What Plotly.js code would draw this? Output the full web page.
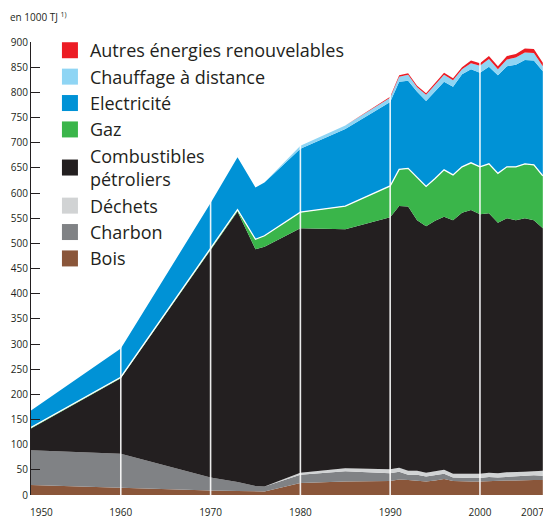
<!DOCTYPE html>
<html>
<head>
<meta charset="utf-8">
<script src="https://cdn.plot.ly/plotly-3.0.1.min.js"></script>
<style>html,body{margin:0;padding:0;background:#fff;}#chart{width:543px;height:518px;}</style>
</head>
<body>
<div id="chart"></div>
<script>
// ---- Data (1000 TJ) ----
const years = [1950, 1960, 1970, 1973, 1975, 1976, 1980, 1985, 1990, 1991, 1992, 1993, 1994, 1995, 1996, 1997, 1998, 1999, 2000, 2001, 2002, 2003, 2004, 2005, 2006, 2007];
const bois        = [20, 14, 9, 8, 7, 7, 24, 27, 28, 31, 30, 29, 27, 29, 32, 28, 27, 27, 27, 28, 28, 29, 29, 30, 30, 30];
const charbon     = [69, 68, 26, 18, 11, 10, 16, 20, 15, 15, 10, 11, 10, 10, 10, 7, 7, 7, 7, 8, 7, 7, 8, 8, 9, 8];
const dechets     = [0, 0, 0, 0, 0, 0, 4, 6, 8, 8, 8, 8, 7, 8, 8, 7, 8, 8, 8, 8, 8, 9, 8, 8, 8, 10];
const petroliers  = [43, 150, 452, 537, 470, 476, 486, 475, 501, 520, 525, 498, 490, 498, 503, 504, 519, 524, 516, 516, 498, 505, 501, 504, 499, 482];
const gaz         = [2, 2, 3, 4, 20, 22, 32, 46, 62, 73, 76, 85, 79, 84, 93, 90, 91, 94, 94, 98, 98, 102, 106, 108, 110, 104];
const electricite = [34, 57, 90, 104, 103, 106, 126, 153, 167, 174, 174, 170, 170, 172, 175, 175, 184, 186, 187, 193, 195, 200, 203, 206, 207, 208];
const chauffage   = [0, 0, 0, 0, 0, 0, 6, 7, 8, 10, 12, 9, 12, 14, 14, 13, 10, 12, 14, 15, 12, 13, 14, 15, 15, 10];
const autres      = [0, 0, 0, 0, 0, 0, 0, 0, 2, 3, 3, 3, 3, 3, 4, 4, 4, 5, 5, 6, 6, 7, 7, 8, 8, 7];

const seriesNames = ["Bois", "Charbon", "Déchets", "Combustibles<br>pétroliers", "Gaz", "Electricité", "Chauffage à distance", "Autres énergies renouvelables"];
const seriesColors = ["#8a563a", "#808285", "#d1d3d4", "#231f20", "#3ab54a", "#0092d6", "#8fd5f4", "#ec1c24"];
const seriesValues = [bois, charbon, dechets, petroliers, gaz, electricite, chauffage, autres];

const xTickVals = [1950, 1960, 1970, 1980, 1990, 2000, 2007];
const xTickText = ["1950", "1960", "1970", "1980", "1990", "2000", "2007"];
const gridYears = [1960, 1970, 1980, 1990, 2000];
const unitLabel = "en 1000 TJ <sup>1)</sup>";

const FONT = "'Open Sans', 'DejaVu Sans', sans-serif";
const TXT = "#231f20";

const traces = [];
seriesValues.forEach((vals, i) => {
  const isGas = seriesNames[i] === "Gaz";
  traces.push({
    type: "scatter", mode: "lines", x: years, y: vals, stackgroup: "one",
    name: seriesNames[i], showlegend: false, hoverinfo: "skip",
    fillcolor: seriesColors[i],
    line: isGas ? {color: "#ffffff", width: 1.3, shape: "linear"} : {color: seriesColors[i], width: 0}
  });
});
// legend entries (top of stack first)
for (let i = seriesValues.length - 1; i >= 0; i--) {
  traces.push({
    type: "scatter", mode: "markers", x: [null], y: [null], name: seriesNames[i],
    legendgroup: "g" + i, showlegend: true, hoverinfo: "skip",
    marker: {symbol: "square", size: 16, color: seriesColors[i], line: {width: 0}}
  });
}

// label padding so end labels stay inside the frame
const pad = "\u00a0".repeat(8);
const ticktext = xTickText.map((t, i) => i === 0 ? pad + t : (i === xTickText.length - 1 ? t + pad : t));

const shapes = gridYears.map(yr => ({
  type: "line", xref: "x", yref: "paper", x0: yr, x1: yr, y0: 0, y1: 1,
  line: {color: "rgba(255,255,255,0.9)", width: 1.6}, layer: "above"
}));

const layout = {
  width: 543, height: 518,
  margin: {l: 31, r: 0, t: 42, b: 23, pad: 0},
  paper_bgcolor: "#ffffff", plot_bgcolor: "#ffffff",
  font: {family: FONT, color: TXT, size: 10},
  showlegend: true,
  legend: {
    x: 0.037, xanchor: "left", y: 1.022, yanchor: "top",
    bgcolor: "rgba(0,0,0,0)", borderwidth: 0,
    font: {family: FONT, size: 18, color: TXT},
    traceorder: "normal", tracegroupgap: 5, itemclick: false
  },
  xaxis: {
    range: [1950, 2007.02], tickmode: "array", tickvals: xTickVals, ticktext: ticktext,
    showgrid: false, zeroline: false, showline: false, ticks: "", ticklabelstandoff: 10,
    ticklabeloverflow: "allow",
    tickfont: {family: FONT, size: 10, color: TXT}, fixedrange: true
  },
  yaxis: {
    range: [0, 900], dtick: 50, tick0: 0, ticks: "inside", ticklen: 9, tickwidth: 1, tickcolor: TXT,
    showline: true, linecolor: TXT, linewidth: 1, showgrid: false, zeroline: false,
    tickfont: {family: FONT, size: 10, color: TXT}, layer: "above traces", fixedrange: true
  },
  shapes: shapes,
  annotations: [{
    text: unitLabel, xref: "paper", yref: "paper", x: -0.045, xanchor: "left",
    y: 1.055, yanchor: "middle", showarrow: false, font: {family: FONT, size: 10, color: TXT}
  }]
};

Plotly.newPlot("chart", traces, layout, {displayModeBar: false, staticPlot: true});
</script>
</body>
</html>
